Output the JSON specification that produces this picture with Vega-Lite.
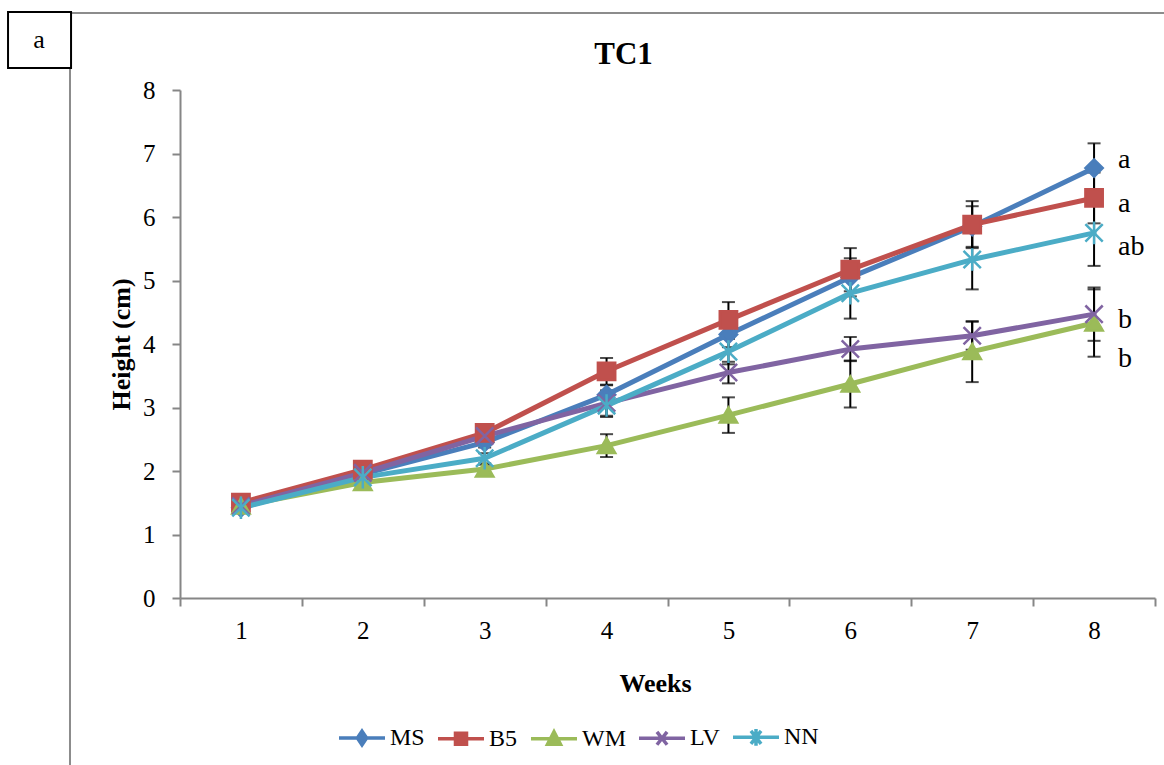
{
  "$schema": "https://vega.github.io/schema/vega-lite/v6.json",
  "width": 975,
  "height": 508,
  "autosize": {"type": "none"},
  "padding": {"left": 180, "top": 90, "right": 9, "bottom": 167},
  "background": "white",
  "config": {"view": {"stroke": null}, "font": "Liberation Serif"},
  "title": {"text": "TC1", "font": "Liberation Serif", "fontSize": 31, "fontWeight": "bold", "color": "black", "anchor": "middle", "frame": "group", "dx": -44, "offset": -84, "baseline": "alphabetic"},
  "datasets": {
    "growth": [
      {"series": "MS", "week": 1, "height": 1.42, "err": 0.04},
      {"series": "MS", "week": 2, "height": 1.95, "err": 0.06},
      {"series": "MS", "week": 3, "height": 2.45, "err": 0.08},
      {"series": "MS", "week": 4, "height": 3.2, "err": 0.15},
      {"series": "MS", "week": 5, "height": 4.15, "err": 0.2},
      {"series": "MS", "week": 6, "height": 5.05, "err": 0.3},
      {"series": "MS", "week": 7, "height": 5.85, "err": 0.32},
      {"series": "MS", "week": 8, "height": 6.77, "err": 0.39},
      {"series": "B5", "week": 1, "height": 1.5, "err": 0.04},
      {"series": "B5", "week": 2, "height": 2.02, "err": 0.06},
      {"series": "B5", "week": 3, "height": 2.6, "err": 0.08},
      {"series": "B5", "week": 4, "height": 3.57, "err": 0.21},
      {"series": "B5", "week": 5, "height": 4.38, "err": 0.28},
      {"series": "B5", "week": 6, "height": 5.17, "err": 0.34},
      {"series": "B5", "week": 7, "height": 5.88, "err": 0.37},
      {"series": "B5", "week": 8, "height": 6.3, "err": 0.4},
      {"series": "WM", "week": 1, "height": 1.45, "err": 0.03},
      {"series": "WM", "week": 2, "height": 1.82, "err": 0.05},
      {"series": "WM", "week": 3, "height": 2.03, "err": 0.07},
      {"series": "WM", "week": 4, "height": 2.4, "err": 0.18},
      {"series": "WM", "week": 5, "height": 2.88, "err": 0.28},
      {"series": "WM", "week": 6, "height": 3.37, "err": 0.37},
      {"series": "WM", "week": 7, "height": 3.88, "err": 0.48},
      {"series": "WM", "week": 8, "height": 4.33, "err": 0.53},
      {"series": "LV", "week": 1, "height": 1.45, "err": 0.04},
      {"series": "LV", "week": 2, "height": 1.97, "err": 0.06},
      {"series": "LV", "week": 3, "height": 2.55, "err": 0.08},
      {"series": "LV", "week": 4, "height": 3.07, "err": 0.2},
      {"series": "LV", "week": 5, "height": 3.55, "err": 0.17},
      {"series": "LV", "week": 6, "height": 3.92, "err": 0.19},
      {"series": "LV", "week": 7, "height": 4.13, "err": 0.22},
      {"series": "LV", "week": 8, "height": 4.47, "err": 0.42},
      {"series": "NN", "week": 1, "height": 1.42, "err": 0.04},
      {"series": "NN", "week": 2, "height": 1.9, "err": 0.06},
      {"series": "NN", "week": 3, "height": 2.2, "err": 0.08},
      {"series": "NN", "week": 4, "height": 3.03, "err": 0.18},
      {"series": "NN", "week": 5, "height": 3.88, "err": 0.2},
      {"series": "NN", "week": 6, "height": 4.8, "err": 0.4},
      {"series": "NN", "week": 7, "height": 5.33, "err": 0.47},
      {"series": "NN", "week": 8, "height": 5.75, "err": 0.52}
    ],
    "letters": [
      {"series": "MS", "week": 8, "height": 6.77, "letter": "a"},
      {"series": "B5", "week": 8, "height": 6.3, "letter": "a"},
      {"series": "WM", "week": 8, "height": 4.33, "letter": "b"},
      {"series": "LV", "week": 8, "height": 4.47, "letter": "b"},
      {"series": "NN", "week": 8, "height": 5.75, "letter": "ab"}
    ]
  },
  "layer": [
    {
      "data": {"values": [{}]},
      "mark": {"type": "rule", "color": "#8c8c8c", "strokeWidth": 2, "clip": false},
      "encoding": {"x": {"datum": -0.394, "type": "quantitative"}, "x2": {"datum": 8.574}, "y": {"datum": 9.213, "type": "quantitative"}}
    },
    {
      "data": {"values": [{}]},
      "mark": {"type": "rule", "color": "#8c8c8c", "strokeWidth": 2, "clip": false},
      "encoding": {"x": {"datum": -0.4026, "type": "quantitative"}, "y": {"datum": 8.346, "type": "quantitative"}, "y2": {"datum": -2.63}}
    },
    {
      "data": {"values": [{}]},
      "mark": {"type": "rect", "fill": "white", "stroke": "black", "strokeWidth": 2, "clip": false},
      "encoding": {"x": {"datum": -0.911, "type": "quantitative"}, "x2": {"datum": -0.394}, "y": {"datum": 9.228, "type": "quantitative"}, "y2": {"datum": 8.346}}
    },
    {
      "data": {"values": [{"panel": "a"}]},
      "mark": {"type": "text", "font": "Liberation Serif", "fontSize": 26, "color": "black", "align": "center", "baseline": "middle", "clip": false},
      "encoding": {"x": {"datum": -0.657, "type": "quantitative"}, "y": {"datum": 8.787, "type": "quantitative"}, "text": {"field": "panel"}}
    },
    {
      "data": {"name": "growth"},
      "encoding": {
        "x": {
          "field": "week", "type": "quantitative", "title": "Weeks",
          "scale": {"domain": [0.5, 8.5], "nice": false, "zero": false},
          "axis": {
            "values": [0.5, 1, 1.5, 2, 2.5, 3, 3.5, 4, 4.5, 5, 5.5, 6, 6.5, 7, 7.5, 8, 8.5],
            "labelExpr": "datum.value % 1 === 0 ? '' + datum.value : ''",
            "tickOpacity": {"condition": {"test": "datum.value % 1 === 0", "value": 0}, "value": 1},
            "grid": false, "domainColor": "#868686", "domainWidth": 2, "tickColor": "#868686", "tickWidth": 2, "tickSize": 8,
            "labelFont": "Liberation Serif", "labelFontSize": 25, "labelColor": "black", "labelPadding": 12, "labelFlush": false, "labelOverlap": false,
            "titleFont": "Liberation Serif", "titleFontSize": 26, "titleFontWeight": "bold", "titleColor": "black", "titlePadding": 27, "titleX": 475
          }
        },
        "y": {
          "field": "height", "type": "quantitative", "title": "Height (cm)",
          "scale": {"domain": [0, 8], "nice": false, "zero": false},
          "axis": {
            "values": [0, 1, 2, 3, 4, 5, 6, 7, 8], "format": ".0f",
            "grid": false, "domainColor": "#868686", "domainWidth": 2, "tickColor": "#868686", "tickWidth": 2, "tickSize": 8,
            "labelFont": "Liberation Serif", "labelFontSize": 25, "labelColor": "black", "labelPadding": 17, "labelFlush": false, "labelOverlap": false,
            "titleFont": "Liberation Serif", "titleFontSize": 26, "titleFontWeight": "bold", "titleColor": "black", "titlePadding": 8
          }
        }
      },
      "layer": [
        {
          "mark": {"type": "errorbar", "ticks": {"size": 13, "thickness": 2, "color": "black"}, "rule": {"strokeWidth": 2, "color": "black"}},
          "encoding": {"yError": {"field": "err"}}
        },
        {
          "mark": {"type": "line", "strokeWidth": 5, "strokeJoin": "round", "strokeCap": "round"},
          "encoding": {
            "color": {"field": "series", "type": "nominal", "scale": {"domain": ["MS", "B5", "WM", "LV", "NN"], "range": ["#4A7EBB", "#C0504D", "#9BBB59", "#8064A2", "#4BACC6"]}, "legend": null}
          }
        },
        {
          "mark": {"type": "point", "size": 300, "strokeWidth": 2.5, "opacity": 1},
          "encoding": {
            "shape": {"field": "series", "type": "nominal", "scale": {"domain": ["MS", "B5", "WM", "LV", "NN"], "range": ["diamond", "square", "triangle-up", "M-1,-1L1,1M-1,1L1,-1", "M-1,-1L1,1M-1,1L1,-1M0,-1.3L0,1.3"]}, "legend": null},
            "fill": {"field": "series", "type": "nominal", "scale": {"domain": ["MS", "B5", "WM", "LV", "NN"], "range": ["#4A7EBB", "#C0504D", "#9BBB59", "#8064A2", "#4BACC6"]}, "legend": null},
            "stroke": {"field": "series", "type": "nominal", "scale": {"domain": ["MS", "B5", "WM", "LV", "NN"], "range": ["#4A7EBB", "#C0504D", "#9BBB59", "#8064A2", "#4BACC6"]}, "legend": null}
          }
        },
        {
          "data": {"name": "letters"},
          "transform": [{"filter": "datum.series === 'MS'"}],
          "mark": {"type": "text", "font": "Liberation Serif", "fontSize": 28, "color": "black", "align": "left", "baseline": "alphabetic", "dx": 24, "dy": 0},
          "encoding": {"text": {"field": "letter"}}
        },
        {
          "data": {"name": "letters"},
          "transform": [{"filter": "datum.series === 'B5' || datum.series === 'LV'"}],
          "mark": {"type": "text", "font": "Liberation Serif", "fontSize": 28, "color": "black", "align": "left", "baseline": "alphabetic", "dx": 24, "dy": 14},
          "encoding": {"text": {"field": "letter"}}
        },
        {
          "data": {"name": "letters"},
          "transform": [{"filter": "datum.series === 'NN'"}],
          "mark": {"type": "text", "font": "Liberation Serif", "fontSize": 28, "color": "black", "align": "left", "baseline": "alphabetic", "dx": 24, "dy": 22},
          "encoding": {"text": {"field": "letter"}}
        },
        {
          "data": {"name": "letters"},
          "transform": [{"filter": "datum.series === 'WM'"}],
          "mark": {"type": "text", "font": "Liberation Serif", "fontSize": 28, "color": "black", "align": "left", "baseline": "alphabetic", "dx": 24, "dy": 44},
          "encoding": {"text": {"field": "letter"}}
        },
        {
          "transform": [{"filter": "false"}],
          "mark": {"type": "point", "opacity": 1, "filled": true, "strokeWidth": 3.5, "strokeCap": "round", "strokeJoin": "round"},
          "encoding": {
            "fill": {
              "field": "series", "type": "nominal",
              "scale": {"domain": ["MS", "B5", "WM", "LV", "NN"], "range": ["#4A7EBB", "#C0504D", "#9BBB59", "#8064A2", "#4BACC6"]},
              "legend": {
                "orient": "none", "legendX": 157, "legendY": 622, "direction": "horizontal", "title": null,
                "symbolSize": 2116, "symbolStrokeWidth": 3.5, "symbolOpacity": 1,
                "labelFont": "Liberation Serif", "labelFontSize": 24, "labelColor": "black",
                "labelOffset": 3, "columnPadding": 6, "padding": 0
              }
            },
            "stroke": {
              "field": "series", "type": "nominal",
              "scale": {"domain": ["MS", "B5", "WM", "LV", "NN"], "range": ["#4A7EBB", "#C0504D", "#9BBB59", "#8064A2", "#4BACC6"]},
              "legend": {
                "orient": "none", "legendX": 157, "legendY": 622, "direction": "horizontal", "title": null,
                "symbolSize": 2116, "symbolStrokeWidth": 3.5, "symbolOpacity": 1,
                "labelFont": "Liberation Serif", "labelFontSize": 24, "labelColor": "black",
                "labelOffset": 3, "columnPadding": 6, "padding": 0
              }
            },
            "shape": {
              "field": "series", "type": "nominal",
              "scale": {"domain": ["MS", "B5", "WM", "LV", "NN"], "range": [
                "M-1,0H1M0,-0.3L0.2,0L0,0.3L-0.2,0Z",
                "M-1,0H1M-0.24,-0.24H0.24V0.24H-0.24Z",
                "M-1,0H1M0,-0.3L0.28,0.24H-0.28Z",
                "M-1,0H1M-0.22,-0.28L0.22,0.28M-0.22,0.28L0.22,-0.28",
                "M-1,0H1M-0.22,-0.28L0.22,0.28M-0.22,0.28L0.22,-0.28M0,-0.36V0.36"
              ]},
              "legend": {
                "orient": "none", "legendX": 157, "legendY": 622, "direction": "horizontal", "title": null,
                "symbolSize": 2116, "symbolStrokeWidth": 3.5, "symbolOpacity": 1,
                "labelFont": "Liberation Serif", "labelFontSize": 24, "labelColor": "black",
                "labelOffset": 3, "columnPadding": 6, "padding": 0
              }
            }
          }
        }
      ],
      "resolve": {"scale": {"shape": "independent", "fill": "independent", "stroke": "independent"}}
    }
  ]
}
